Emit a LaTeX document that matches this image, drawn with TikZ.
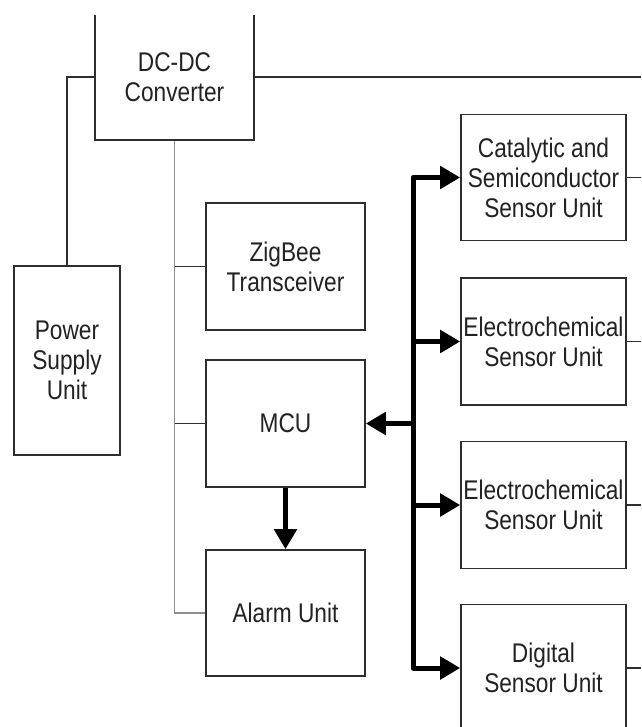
\documentclass[tikz,border=0pt]{standalone}
\usepackage{fontspec}
\setmainfont{Liberation Sans}[FakeStretch=0.84]
\usetikzlibrary{arrows.meta}

\definecolor{boxline}{HTML}{2E2E2E}
\definecolor{txt}{HTML}{222222}
\definecolor{trunkgray}{HTML}{8F8F8F}

\tikzset{
  block/.style={draw=boxline, line width=1.6pt, fill=white, inner sep=0pt,
    align=center, text=txt, font=\fontsize{27}{30}\selectfont},
  wire/.style={draw=boxline, line width=1.6pt},
  graywire/.style={draw=trunkgray, line width=1.6pt},
  busline/.style={draw=black, line width=5pt, line join=round,
    arrows={-Triangle[length=20pt, width=22pt]}},
}

\begin{document}
\begin{tikzpicture}[x=1pt, y=-1pt]
  \useasboundingbox (0,0) rectangle (641,727);
  \fill[white] (0,0) rectangle (641,727);
  \clip (0,16) rectangle (641,727);

  % blocks
  \node[block, minimum width=159pt, minimum height=126pt] (dcdc) at (174.5,77) {DC-DC\\Converter};
  \node[block, minimum width=106pt, minimum height=189pt] (psu) at (67,360.5) {Power\\Supply\\Unit};
  \node[block, minimum width=159pt, minimum height=127pt] (zig) at (285.5,266.5) {ZigBee\\Transceiver};
  \node[block, minimum width=159pt, minimum height=127pt] (mcu) at (285.5,423.5) {MCU};
  \node[block, minimum width=159pt, minimum height=126pt] (alarm) at (285.5,613) {Alarm Unit};

  \node[block, minimum width=165pt, minimum height=126pt] (cat) at (543.5,177.5) {Catalytic and\\Semiconductor\\Sensor Unit};
  \node[block, minimum width=165pt, minimum height=127pt] (ec1) at (543.5,341.5) {Electrochemical\\Sensor Unit};
  \node[block, minimum width=165pt, minimum height=127pt] (ec2) at (543.5,505) {Electrochemical\\Sensor Unit};
  \node[block, minimum width=165pt, minimum height=127pt] (dig) at (543.5,668) {Digital\\Sensor Unit};

  % free ends and bus position
  \coordinate (edge) at (641,0);
  \coordinate (bus) at (413,0);

  % power distribution
  \draw[wire] (dcdc.west) -| (psu.north);
  \draw[wire] (dcdc.east) -- (dcdc.east -| edge);
  \draw[graywire] (dcdc.south) |- (alarm.west);
  \draw[wire] (zig.west) -- (zig.west -| dcdc.south);
  \draw[wire] (mcu.west) -- (mcu.west -| dcdc.south);

  % sensor outputs to the right
  \draw[wire] (cat.east) -- (cat.east -| edge);
  \draw[wire] (ec1.east) -- (ec1.east -| edge);
  \draw[wire] (ec2.east) -- (ec2.east -| edge);
  \draw[wire] (dig.east) -- (dig.east -| edge);

  % data bus
  \draw[busline, arrows={Triangle[length=20pt, width=22pt]-Triangle[length=20pt, width=22pt]}]
    (cat.west) -- (bus |- cat.west) -- (bus |- dig.west) -- (dig.west);
  \draw[busline] (bus |- ec1.west) -- (ec1.west);
  \draw[busline] (bus |- ec2.west) -- (ec2.west);
  \draw[busline] (bus |- mcu.east) -- (mcu.east);
  \draw[busline] (mcu.south) -- (alarm.north);
\end{tikzpicture}
\end{document}
